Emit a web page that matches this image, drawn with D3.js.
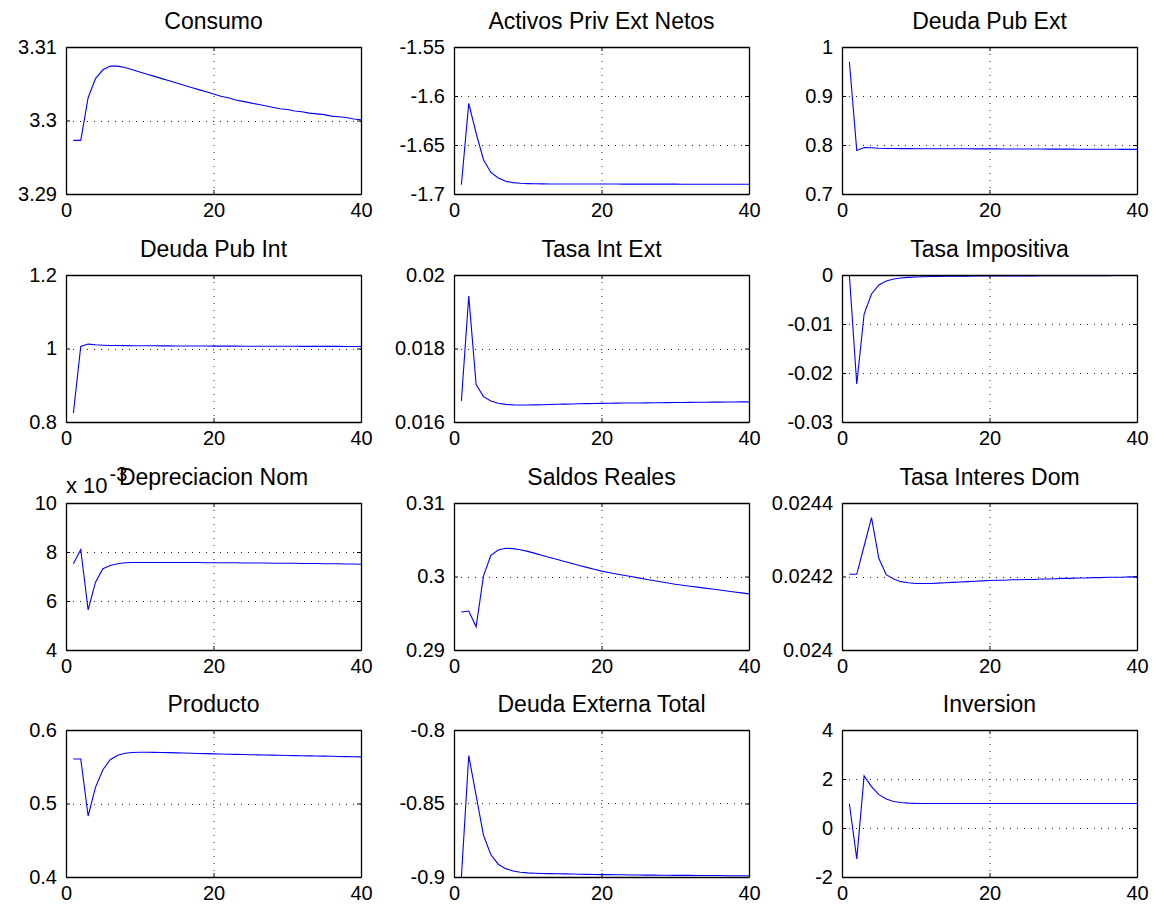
<!DOCTYPE html>
<html>
<head>
<meta charset="utf-8">
<script src="https://cdn.jsdelivr.net/npm/d3@7"></script>
<style>
  body { margin: 0; background: #fff; }
  svg text { font-family: "Liberation Sans", Arial, sans-serif; fill: #000; }
</style>
</head>
<body>
<script>
var W = 1169, H = 911;
var colLeft = [66, 454, 842];
var rowTop = [47, 275, 503, 730];
var pw = 295, ph = 147;

var periods = d3.range(1, 41);
var xTicks = [0, 20, 40];

/* titulos de los paneles */
var titles = ["Consumo", "Activos Priv Ext Netos", "Deuda Pub Ext",
  "Deuda Pub Int", "Tasa Int Ext", "Tasa Impositiva",
  "Depreciacion Nom", "Saldos Reales", "Tasa Interes Dom",
  "Producto", "Deuda Externa Total", "Inversion"];

/* rango y ticks del eje y */
var yDomains = [[3.29, 3.31], [-1.7, -1.55], [0.7, 1],
  [0.8, 1.2], [0.016, 0.02], [-0.03, 0],
  [0.004, 0.010], [0.29, 0.31], [0.024, 0.0244],
  [0.4, 0.6], [-0.9, -0.8], [-2, 4]];
var yTicks = [[3.29, 3.3, 3.31], [-1.7, -1.65, -1.6, -1.55], [0.7, 0.8, 0.9, 1],
  [0.8, 1, 1.2], [0.016, 0.018, 0.02], [-0.03, -0.02, -0.01, 0],
  [0.004, 0.006, 0.008, 0.010], [0.29, 0.3, 0.31], [0.024, 0.0242, 0.0244],
  [0.4, 0.5, 0.6], [-0.9, -0.85, -0.8], [-2, 0, 2, 4]];
var yExp = [0, 0, 0, 0, 0, 0, -3, 0, 0, 0, 0, 0];

/* series */
var consumo = [3.2973, 3.2973, 3.3031, 3.3057, 3.3069, 3.3074, 3.3074, 3.3072, 3.3069, 3.3066,
  3.3063, 3.3060, 3.3057, 3.3054, 3.3051, 3.3048, 3.3045, 3.3042, 3.3039, 3.3036,
  3.3033, 3.3031, 3.3028, 3.3026, 3.3024, 3.3022, 3.3020, 3.3018, 3.3016, 3.3015,
  3.3013, 3.3012, 3.3010, 3.3009, 3.3008, 3.3006, 3.3005, 3.3004, 3.3002, 3.3001];
var activos = [-1.6905, -1.6075, -1.638, -1.665, -1.678, -1.6837, -1.687, -1.6884, -1.6891, -1.6894,
  -1.6896, -1.6897, -1.6898, -1.6898, -1.6898, -1.6898, -1.6898, -1.6898, -1.6898, -1.6898,
  -1.6898, -1.6898, -1.6899, -1.6899, -1.6899, -1.6899, -1.6899, -1.6899, -1.6899, -1.6899,
  -1.6900, -1.6900, -1.6900, -1.6900, -1.6900, -1.6900, -1.6900, -1.6900, -1.6900, -1.6900];
var deudaPubExt = [0.970, 0.789, 0.795, 0.7945, 0.7935, 0.793, 0.7928, 0.7927, 0.7926, 0.7925,
  0.7925, 0.7924, 0.7924, 0.7923, 0.7923, 0.7922, 0.7922, 0.7921, 0.7921, 0.7920,
  0.7920, 0.7919, 0.7919, 0.7918, 0.7918, 0.7917, 0.7917, 0.7916, 0.7916, 0.7915,
  0.7915, 0.7914, 0.7914, 0.7913, 0.7913, 0.7912, 0.7912, 0.7911, 0.7911, 0.7910];
var deudaPubInt = [0.8245, 1.0055, 1.012, 1.010, 1.009, 1.008, 1.008, 1.0078, 1.0076, 1.0075,
  1.0074, 1.0073, 1.0072, 1.0071, 1.0070, 1.0069, 1.0068, 1.0067, 1.0066, 1.0065,
  1.0065, 1.0064, 1.0064, 1.0063, 1.0063, 1.0062, 1.0062, 1.0061, 1.0061, 1.0060,
  1.0060, 1.0059, 1.0059, 1.0058, 1.0058, 1.0057, 1.0057, 1.0056, 1.0056, 1.0055];
var tasaIntExt = [0.016575, 0.019425, 0.01702, 0.01669, 0.01657, 0.01651, 0.01648, 0.016466, 0.016462, 0.016462,
  0.016466, 0.016471, 0.016476, 0.016481, 0.016486, 0.016491, 0.016496, 0.016500, 0.016504, 0.016508,
  0.016511, 0.016513, 0.016515, 0.016517, 0.016519, 0.016521, 0.016523, 0.016525, 0.016527, 0.016530,
  0.016532, 0.016534, 0.016536, 0.016538, 0.016540, 0.016541, 0.016543, 0.016545, 0.016547, 0.016548];
var tasaImpositiva = [0, -0.02224, -0.00796, -0.00388, -0.00204, -0.00122, -0.0008, -0.0006, -0.00048, -0.0004,
  -0.00035, -0.00031, -0.00028, -0.00026, -0.00024, -0.00023, -0.00022, -0.00021, -0.0002, -0.0002,
  -0.00019, -0.00019, -0.00018, -0.00018, -0.00017, -0.00017, -0.00016, -0.00016, -0.00015, -0.00015,
  -0.00014, -0.00014, -0.00013, -0.00013, -0.00012, -0.00012, -0.00011, -0.00011, -0.0001, -0.0001];
var depreciacion = [0.00752, 0.0081, 0.00564, 0.00677, 0.00732, 0.00745, 0.00752, 0.00756, 0.00757, 0.00757,
  0.00757, 0.00757, 0.00757, 0.00757, 0.00757, 0.00757, 0.00757, 0.00757, 0.00756, 0.00756,
  0.00756, 0.00756, 0.00756, 0.00755, 0.00755, 0.00755, 0.00755, 0.00754, 0.00754, 0.00754,
  0.00754, 0.00753, 0.00753, 0.00753, 0.00752, 0.00752, 0.00752, 0.00751, 0.00751, 0.00750];
var saldos = [0.29516, 0.2953, 0.29315, 0.30009, 0.30288, 0.30361, 0.30384, 0.30379, 0.30365, 0.30342,
  0.30315, 0.30287, 0.30259, 0.30231, 0.30204, 0.30177, 0.30150, 0.30124, 0.30098, 0.30073,
  0.30054, 0.30035, 0.30017, 0.29999, 0.29981, 0.29963, 0.29946, 0.29929, 0.29912, 0.29895,
  0.29881, 0.29868, 0.29855, 0.29842, 0.29829, 0.29816, 0.29803, 0.29790, 0.29777, 0.29763];
var tasaDom = [0.024206, 0.024206, 0.024283, 0.02436, 0.024249, 0.024205, 0.024193, 0.024186, 0.024183, 0.024181,
  0.024181, 0.024181, 0.024182, 0.024183, 0.024184, 0.024185, 0.024186, 0.024187, 0.024188, 0.024189,
  0.024190, 0.024190, 0.024191, 0.024191, 0.024192, 0.024192, 0.024193, 0.024193, 0.024194, 0.024195,
  0.024195, 0.024196, 0.024196, 0.024197, 0.024197, 0.024198, 0.024198, 0.024198, 0.024199, 0.024199];
var producto = [0.5605, 0.5605, 0.483, 0.522, 0.5459, 0.5596, 0.5656, 0.5683, 0.5693, 0.5697,
  0.5697, 0.5696, 0.5694, 0.5692, 0.5689, 0.5687, 0.5684, 0.5681, 0.5678, 0.5675,
  0.5673, 0.5671, 0.5669, 0.5667, 0.5664, 0.5662, 0.5660, 0.5658, 0.5656, 0.5654,
  0.5652, 0.5650, 0.5648, 0.5646, 0.5644, 0.5642, 0.5640, 0.5638, 0.5636, 0.5634];
var deudaExtTotal = [-0.9003, -0.8174, -0.8447, -0.8716, -0.8849, -0.8913, -0.8943, -0.8959, -0.8968, -0.8972,
  -0.8974, -0.8976, -0.8977, -0.8978, -0.8979, -0.8980, -0.8981, -0.8982, -0.8983, -0.8984,
  -0.8984, -0.8985, -0.8985, -0.8986, -0.8986, -0.8987, -0.8987, -0.8988, -0.8988, -0.8989,
  -0.8989, -0.8989, -0.8990, -0.8990, -0.8990, -0.8990, -0.8991, -0.8991, -0.8991, -0.8991];
var inversion = [0.99, -1.26, 2.13, 1.69, 1.36, 1.18, 1.08, 1.04, 1.015, 1.005,
  1.002, 1.001, 1.0, 1.0, 1.0, 1.0, 1.0, 1.0, 1.0, 1.0,
  1.0, 1.0, 1.0, 1.0, 1.0, 1.0, 1.0, 1.0, 1.0, 1.0,
  1.0, 1.0, 1.0, 1.0, 1.0, 1.0, 1.0, 1.0, 1.0, 1.0];

var series = [consumo, activos, deudaPubExt, deudaPubInt, tasaIntExt, tasaImpositiva,
  depreciacion, saldos, tasaDom, producto, deudaExtTotal, inversion];

const svg = d3.select("body").append("svg")
  .attr("width", W)
  .attr("height", H);

const tickLen = 4;

titles.forEach(function (title, i) {
  var x0 = colLeft[i % 3], y0 = rowTop[Math.floor(i / 3)];
  var x = d3.scaleLinear().domain([0, 40]).range([0, pw]);
  var y = d3.scaleLinear().domain(yDomains[i]).range([ph, 0]);
  var scaleF = Math.pow(10, -yExp[i]);
  var fmt = function (v) { return String(+(v * scaleF).toFixed(6)); };

  var g = svg.append("g").attr("transform", "translate(" + x0 + "," + y0 + ")");

  g.append("clipPath").attr("id", "clip" + i)
    .append("rect").attr("width", pw).attr("height", ph);

  /* rejilla punteada */
  var grid = g.append("g").attr("class", "grid")
    .attr("stroke", "#222").attr("stroke-width", 1).attr("stroke-dasharray", "1,6");
  grid.selectAll(".gx").data(xTicks.filter(function (t) { return t > 0 && t < 40; }))
    .enter().append("line")
    .attr("x1", d => x(d) + 0.5).attr("x2", d => x(d) + 0.5)
    .attr("y1", 0).attr("y2", ph);
  grid.selectAll(".gy").data(yTicks[i].filter(function (t) {
      return y(t) > 1 && y(t) < ph - 1; }))
    .enter().append("line")
    .attr("x1", 0).attr("x2", pw)
    .attr("y1", d => Math.round(y(d)) + 0.5).attr("y2", d => Math.round(y(d)) + 0.5);

  /* linea */
  g.append("path")
    .datum(series[i])
    .attr("clip-path", "url(#clip" + i + ")")
    .attr("fill", "none")
    .attr("stroke", "#0000ff")
    .attr("stroke-width", 1.1)
    .attr("d", d3.line()
      .x(function (d, k) { return x(periods[k]); })
      .y(function (d) { return y(d); }));

  /* ejes tipo caja con ticks hacia adentro */
  g.append("g").attr("transform", "translate(0," + ph + ")")
    .call(d3.axisBottom(x).tickValues(xTicks).tickSizeInner(-tickLen).tickSizeOuter(0)
      .tickPadding(9).tickFormat(d3.format("d")));
  g.append("g")
    .call(d3.axisTop(x).tickValues(xTicks).tickSizeInner(-tickLen).tickSizeOuter(0)
      .tickFormat(""));
  g.append("g")
    .call(d3.axisLeft(y).tickValues(yTicks[i]).tickSizeInner(-tickLen).tickSizeOuter(0)
      .tickPadding(9).tickFormat(fmt));
  g.append("g").attr("transform", "translate(" + pw + ",0)")
    .call(d3.axisRight(y).tickValues(yTicks[i]).tickSizeInner(-tickLen).tickSizeOuter(0)
      .tickFormat(""));

  g.selectAll(".domain").attr("stroke", "#000").attr("stroke-width", 1.3);
  g.selectAll(".tick line").attr("stroke", "#000");
  g.selectAll(".tick text")
    .style("font-size", "20px")
    .attr("fill", "#000");

  g.append("text")
    .attr("x", pw / 2)
    .attr("y", -18)
    .attr("text-anchor", "middle")
    .style("font-size", "23px")
    .text(title);

  if (yExp[i] !== 0) {
    var ex = g.append("text")
      .attr("x", 0)
      .attr("y", -10)
      .style("font-size", "22px");
    ex.append("tspan").text("x 10");
    ex.append("tspan").attr("dx", 2).attr("dy", -12).style("font-size", "20px").text(String(yExp[i]));
  }
});
</script>
</body>
</html>
